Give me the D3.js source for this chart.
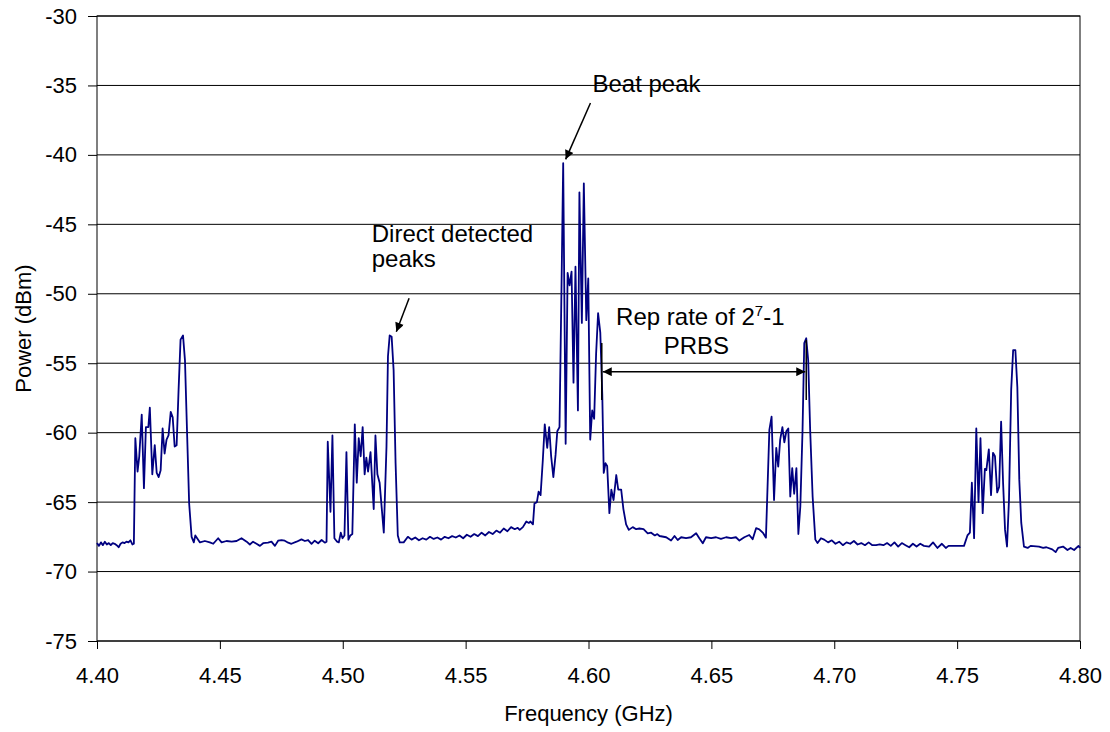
<!DOCTYPE html>
<html lang="en">
<head>
<meta charset="utf-8">
<script src="https://d3js.org/d3.v7.min.js"></script>
<style>
    body { margin: 0; background: #fff; }
    text { font-family: "Liberation Sans", Arial, sans-serif; }
</style>
</head>
<body>
<script>
    // spectrum trace
    var freqGHz = [
        4.4000, 4.4008, 4.4016, 4.4024, 4.4032, 4.4040, 4.4048, 4.4056, 4.4064, 4.4072,
        4.4080, 4.4088, 4.4096, 4.4104, 4.4112, 4.4120, 4.4128, 4.4136, 4.4144, 4.4150,
        // peak 1
        4.4156, 4.4165, 4.4172, 4.4182, 4.4191, 4.4199, 4.4209, 4.4215, 4.4225, 4.4235,
        4.4243, 4.4251, 4.4259, 4.4267, 4.4275, 4.4283, 4.4291, 4.4300, 4.4308, 4.4316,
        4.4324, 4.4332, 4.4340, 4.4350, 4.4358, 4.4367, 4.4375, 4.4385, 4.4394, 4.4400,
        // floor
        4.4419, 4.4439, 4.4459, 4.4473, 4.4493, 4.4507, 4.4527, 4.4548, 4.4568, 4.4588,
        4.4609, 4.4622, 4.4635, 4.4649, 4.4663, 4.4676, 4.4696, 4.4710, 4.4724, 4.4737,
        4.4751, 4.4764, 4.4778, 4.4791, 4.4812, 4.4832, 4.4846, 4.4859, 4.4873, 4.4886,
        4.4900, 4.4914, 4.4927,
        // peak 2
        4.4934, 4.4939, 4.4950, 4.4958, 4.4966, 4.4977, 4.4984, 4.4992, 4.4999, 4.5007,
        4.5015, 4.5023, 4.5031, 4.5039, 4.5049, 4.5057, 4.5065, 4.5073, 4.5081, 4.5089,
        4.5096, 4.5103, 4.5113, 4.5126, 4.5133, 4.5141, 4.5150, 4.5167, 4.5178, 4.5184,
        4.5191, 4.5199, 4.5207, 4.5215, 4.5224, 4.5232, 4.5248, 4.5265,
        // floor
        4.5280, 4.5295, 4.5310, 4.5325, 4.5340, 4.5355, 4.5370, 4.5385, 4.5400, 4.5415,
        4.5430, 4.5445, 4.5460, 4.5475, 4.5490, 4.5505, 4.5520, 4.5535, 4.5550, 4.5565,
        4.5580, 4.5595, 4.5610, 4.5625, 4.5640, 4.5655, 4.5670, 4.5685, 4.5700, 4.5712,
        // centre (beat) peak
        4.5720, 4.5733, 4.5747, 4.5757, 4.5764, 4.5774, 4.5780, 4.5790, 4.5797, 4.5805,
        4.5814, 4.5822, 4.5832, 4.5840, 4.5848, 4.5857, 4.5866, 4.5873, 4.5882, 4.5890,
        4.5897, 4.5907, 4.5915, 4.5923, 4.5931, 4.5939, 4.5947, 4.5957, 4.5963, 4.5973,
        4.5981, 4.5991, 4.5999, 4.6007, 4.6015, 4.6023, 4.6031, 4.6039, 4.6048, 4.6056,
        4.6062, 4.6069, 4.6076, 4.6085, 4.6093, 4.6102, 4.6113, 4.6121, 4.6133, 4.6142,
        4.6153, 4.6164, 4.6180, 4.6194, 4.6207, 4.6224, 4.6241,
        // floor
        4.6255, 4.6270, 4.6280, 4.6289, 4.6316, 4.6336, 4.6350, 4.6363, 4.6377, 4.6397,
        4.6417, 4.6438, 4.6451, 4.6465, 4.6478, 4.6499, 4.6519, 4.6539, 4.6560, 4.6580,
        4.6600, 4.6614, 4.6634, 4.6654, 4.6668, 4.6682, 4.6695, 4.6711, 4.6722,
        // peak 4
        4.6736, 4.6745, 4.6755, 4.6764, 4.6772, 4.6780, 4.6789, 4.6797, 4.6805, 4.6813,
        4.6821, 4.6829, 4.6837, 4.6846, 4.6854, 4.6862, 4.6871, 4.6878, 4.6886, 4.6894,
        4.6902, 4.6912, 4.6923, 4.6932, 4.6946, 4.6959,
        // floor
        4.6975, 4.6990, 4.7005, 4.7020, 4.7035, 4.7050, 4.7065, 4.7080, 4.7095, 4.7110,
        4.7125, 4.7140, 4.7155, 4.7170, 4.7185, 4.7200, 4.7215, 4.7230, 4.7245, 4.7260,
        4.7275, 4.7290, 4.7305, 4.7320, 4.7335, 4.7350, 4.7365,
        // peak 5
        4.7386, 4.7402, 4.7420, 4.7438, 4.7454, 4.7465, 4.7528, 4.7542, 4.7552, 4.7560,
        4.7569, 4.7578, 4.7587, 4.7595, 4.7604, 4.7613, 4.7619, 4.7629, 4.7638, 4.7646,
        4.7654, 4.7663, 4.7671, 4.7679, 4.7687, 4.7695, 4.7703, 4.7711, 4.7720, 4.7728,
        4.7737, 4.7745, 4.7753, 4.7761, 4.7772, 4.7787, 4.7799, 4.7833, 4.7850, 4.7863,
        4.7887, 4.7901, 4.7911, 4.7931, 4.7949, 4.7962, 4.7976, 4.7994, 4.8000
    ];
    var powerDbm = [
        -67.95, -68.15, -67.90, -68.10, -67.85, -68.05, -67.95, -68.10, -67.95, -68.00,
        -68.10, -68.25, -68.00, -67.90, -67.95, -67.85, -67.90, -67.75, -68.05, -68.00,
        // peak 1
        -60.4, -62.8, -61.7, -58.7, -64.0, -59.6, -59.6, -58.2, -63.0, -60.9,
        -62.9, -63.2, -62.7, -59.7, -61.5, -60.5, -60.2, -58.5, -58.9, -61.0,
        -60.9, -56.9, -53.3, -53.0, -54.8, -60.3, -65.1, -67.5, -67.9, -67.4,
        // floor
        -67.90, -67.80, -67.90, -68.00, -67.60, -67.90, -67.80, -67.85, -67.80, -67.60,
        -67.85, -68.05, -67.85, -68.00, -68.15, -67.96, -67.92, -67.85, -68.15, -67.78,
        -67.73, -67.78, -67.92, -68.00, -67.85, -67.68, -67.80, -67.73, -68.00, -67.78,
        -67.96, -67.73, -67.92,
        // peak 2
        -67.85, -60.65, -65.7, -60.2, -67.6, -67.85, -67.9, -67.2, -67.6, -67.4,
        -61.4, -67.7, -67.4, -67.3, -59.4, -63.6, -60.4, -61.7, -59.6, -63.0,
        -61.8, -62.8, -61.4, -65.5, -60.2, -63.0, -63.6, -67.2, -61.0, -54.5,
        -53.0, -53.1, -55.5, -62.2, -67.4, -67.9, -67.9, -67.5,
        // floor
        -67.70, -67.55, -67.75, -67.60, -67.70, -67.50, -67.65, -67.55, -67.70, -67.50,
        -67.60, -67.45, -67.55, -67.40, -67.60, -67.35, -67.50, -67.30, -67.45, -67.20,
        -67.40, -67.15, -67.30, -67.05, -67.20, -66.90, -67.10, -66.80, -66.95, -66.85,
        // centre (beat) peak
        -67.0, -66.8, -66.4, -66.5, -66.4, -66.6, -65.1, -65.0, -64.25, -64.5,
        -62.0, -59.4, -61.1, -59.6, -61.7, -63.2, -61.6, -59.9, -59.6, -49.7,
        -40.6, -60.8, -48.5, -49.4, -48.4, -56.4, -48.05, -58.4, -42.7, -52.1,
        -42.05, -51.9, -48.9, -60.5, -58.4, -59.0, -54.3, -51.4, -52.8, -57.2,
        -62.9, -62.2, -62.4, -65.8, -64.1, -64.85, -63.05, -64.1, -64.1, -65.5,
        -66.6, -67.0, -66.8, -66.95, -66.9, -66.95, -67.25,
        // floor
        -67.20, -67.40, -67.30, -67.44, -67.53, -67.77, -67.44, -67.73, -67.53, -67.60,
        -67.53, -67.24, -67.60, -67.96, -67.53, -67.60, -67.53, -67.65, -67.53, -67.60,
        -67.53, -67.77, -67.53, -67.37, -67.67, -66.88, -66.96, -67.24, -67.56,
        // peak 4
        -59.8, -58.85, -64.85, -61.1, -62.45, -60.5, -59.6, -60.7, -59.9, -59.7,
        -64.6, -62.55, -64.4, -62.55, -67.3, -65.3, -59.8, -53.55, -53.2, -54.8,
        -59.8, -64.6, -67.7, -67.95, -67.6, -67.7,
        // floor
        -67.90, -67.75, -68.00, -67.85, -68.10, -67.90, -68.00, -67.80, -68.05, -67.95,
        -68.10, -67.90, -68.10, -68.10, -68.05, -68.10, -67.95, -68.15, -67.90, -68.20,
        -67.95, -68.10, -68.25, -68.00, -68.20, -68.00, -68.15,
        // peak 5
        -68.2, -67.9, -68.3, -68.0, -68.3, -68.15, -68.15, -67.4, -67.2, -63.6,
        -67.6, -59.7, -65.0, -60.4, -65.8, -62.6, -62.7, -61.2, -64.5, -61.45,
        -61.7, -64.3, -63.9, -59.2, -63.6, -67.0, -68.2, -64.85, -56.9, -54.05,
        -54.05, -56.7, -63.4, -66.5, -68.2, -68.3, -68.15, -68.2, -68.3, -68.25,
        -68.4, -68.6, -68.3, -68.2, -68.45, -68.3, -68.45, -68.15, -68.3
    ];

    var yTicks = [-75, -70, -65, -60, -55, -50, -45, -40, -35, -30];
    var yTickLabels = ["-75", "-70", "-65", "-60", "-55", "-50", "-45", "-40", "-35", "-30"];
    var xTicks = [4.40, 4.45, 4.50, 4.55, 4.60, 4.65, 4.70, 4.75, 4.80];
    var xTickLabels = ["4.40", "4.45", "4.50", "4.55", "4.60", "4.65", "4.70", "4.75", "4.80"];

    const width = 1110;
    const height = 732;
    const fontSize = 22;
    const noteSize = 24;

    var x = d3.scaleLinear().domain([4.40, 4.80]).range([97, 1080]);
    var y = d3.scaleLinear().domain([-75, -30]).range([641, 16]);

    var svg = d3.select("body")
        .append("svg")
        .attr("width", width)
        .attr("height", height);

    svg.append("rect").attr("width", width).attr("height", height).attr("fill", "#fff");

    var defs = svg.append("defs");
    defs.append("marker")
        .attr("id", "arrow")
        .attr("markerUnits", "userSpaceOnUse")
        .attr("viewBox", "0 0 10 10")
        .attr("markerWidth", 12)
        .attr("markerHeight", 9)
        .attr("refX", 10)
        .attr("refY", 5)
        .attr("orient", "auto-start-reverse")
        .append("path")
        .attr("d", "M0,0 L10,5 L0,10 z")
        .attr("fill", "#000");

    // horizontal gridlines
    svg.append("g")
        .selectAll("line")
        .data(yTicks)
        .enter()
        .append("line")
        .attr("x1", x.range()[0])
        .attr("x2", x.range()[1])
        .attr("y1", function (d) { return y(d); })
        .attr("y2", function (d) { return y(d); })
        .attr("stroke", "#000")
        .attr("stroke-width", 1);

    // axes
    var yAxis = d3.axisLeft(y)
        .tickValues(yTicks)
        .tickSize(9)
        .tickPadding(11)
        .tickFormat(function (d, i) { return yTickLabels[i]; });

    var gy = svg.append("g")
        .attr("transform", "translate(" + x.range()[0] + ",0)")
        .call(yAxis);
    gy.select(".domain").remove();

    var xAxis = d3.axisBottom(x)
        .tickValues(xTicks)
        .tickSize(8)
        .tickPadding(18)
        .tickFormat(function (d, i) { return xTickLabels[i]; });

    var gx = svg.append("g")
        .attr("transform", "translate(0," + y.range()[0] + ")")
        .call(xAxis);
    gx.select(".domain").remove();

    [gx, gy].forEach(function (g) {
        g.attr("font-size", fontSize)
            .attr("font-family", '"Liberation Sans", Arial, sans-serif');
        g.selectAll("text").attr("fill", "#000");
        g.selectAll("line").attr("stroke", "#000");
    });

    // plot border
    svg.append("rect")
        .attr("x", x.range()[0])
        .attr("y", y.range()[1])
        .attr("width", x.range()[1] - x.range()[0])
        .attr("height", y.range()[0] - y.range()[1])
        .attr("fill", "none")
        .attr("stroke", "#000")
        .attr("stroke-width", 1);

    // trace
    var points = freqGHz.map(function (f, i) { return { f: f, p: powerDbm[i] }; });
    var line = d3.line()
        .x(function (d) { return x(d.f); })
        .y(function (d) { return y(d.p); });

    svg.append("path")
        .datum(points)
        .attr("d", line)
        .attr("fill", "none")
        .attr("stroke", "#000080")
        .attr("stroke-width", 1.8)
        .attr("stroke-linejoin", "round");

    // axis titles
    svg.append("text")
        .attr("x", (x.range()[0] + x.range()[1]) / 2)
        .attr("y", 721)
        .attr("text-anchor", "middle")
        .attr("font-size", fontSize)
        .text("Frequency (GHz)");

    svg.append("text")
        .attr("transform", "translate(31," + (y.range()[0] + y.range()[1]) / 2 + ") rotate(-90)")
        .attr("text-anchor", "middle")
        .attr("font-size", fontSize)
        .text("Power (dBm)");

    // annotations
    function note(f, p, str, anchor) {
        return svg.append("text")
            .attr("x", x(f))
            .attr("y", y(p))
            .attr("text-anchor", anchor || "start")
            .attr("font-size", noteSize)
            .text(str);
    }
    function arrow(f1, p1, f2, p2, both) {
        var l = svg.append("line")
            .attr("x1", x(f1)).attr("y1", y(p1))
            .attr("x2", x(f2)).attr("y2", y(p2))
            .attr("stroke", "#000")
            .attr("stroke-width", 1.5)
            .attr("marker-end", "url(#arrow)");
        if (both) l.attr("marker-start", "url(#arrow)");
        return l;
    }
    function rule(f, p1, p2) {
        svg.append("line")
            .attr("x1", x(f)).attr("x2", x(f))
            .attr("y1", y(p1)).attr("y2", y(p2))
            .attr("stroke", "#000")
            .attr("stroke-width", 1.5);
    }

    note(4.6016, -35.47, "Beat peak");
    arrow(4.6008, -36.26, 4.5907, -40.32);

    note(4.5118, -46.27, "Direct detected");
    note(4.5118, -48.07, "peaks");
    arrow(4.5270, -50.32, 4.5218, -52.73);

    var rep = note(4.6455, -52.25, "Rep rate of 2", "middle");
    rep.append("tspan").attr("font-size", 15).attr("dy", -9).text("7");
    rep.append("tspan").attr("dy", 9).text("-1");
    note(4.6439, -54.33, "PRBS", "middle");

    rule(4.6054, -53.54, -57.65);
    rule(4.6886, -53.33, -57.65);
    arrow(4.6058, -55.61, 4.6882, -55.61, true);
</script>
</body>
</html>
